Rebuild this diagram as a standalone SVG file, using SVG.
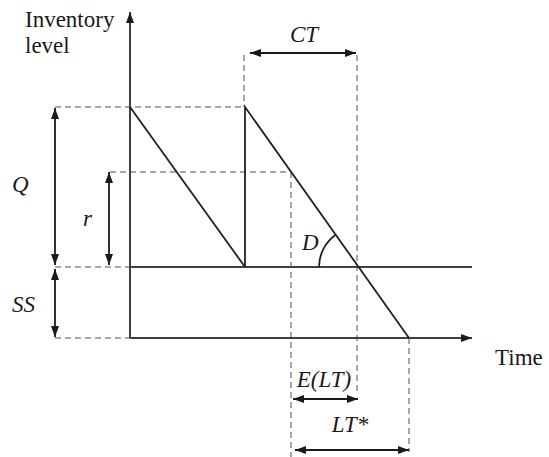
<svg xmlns="http://www.w3.org/2000/svg" width="549" height="457" viewBox="0 0 549 457">
<defs>
<marker id="ah" viewBox="0 0 11 8" refX="11" refY="4" markerWidth="11" markerHeight="8" markerUnits="userSpaceOnUse" orient="auto-start-reverse">
<path d="M0,0 L11,4 L0,8 z" fill="#1a1a1a"/>
</marker>
<style>
.ax{stroke:#404040;stroke-width:2;fill:none}
.ln{stroke:#222;stroke-width:1.8;fill:none}
.ds{stroke:#8a8a8a;stroke-width:1.5;stroke-dasharray:6,4;fill:none}
.dim{stroke:#1a1a1a;stroke-width:1.8;fill:none;marker-start:url(#ah);marker-end:url(#ah)}
.t{font-size:23px;fill:#1a1a1a}
.i{font-style:italic}
</style>
</defs>
<rect width="549" height="457" fill="#fff"/>
<g id="guides">
<path class="ds" d="M55,107 H245 M110,172 H291 M55,267 H130 M55,338 H130 M244,55 V107 M357,55 V395 M291,172 V457 M409,338 V452"/>
</g>
<g id="axes">
<line class="ax" x1="130" y1="338" x2="130" y2="12" marker-end="url(#ah)"/>
<line class="ax" x1="130" y1="338" x2="472" y2="338" marker-end="url(#ah)"/>
<line class="ax" x1="130" y1="267" x2="472" y2="267"/>
</g>
<g id="connectors">
<path class="ln" d="M130,107 L245,267 M245,267 V107 L409,338"/>
<path class="ln" d="M319,267 A40,40 0 0 1 336,234.5"/>
<line class="dim" x1="55" y1="108" x2="55" y2="265"/>
<line class="dim" x1="55" y1="269" x2="55" y2="337"/>
<line class="dim" x1="109" y1="172" x2="109" y2="265"/>
<line class="dim" x1="250" y1="53" x2="356" y2="53"/>
<line class="dim" x1="293" y1="399" x2="358" y2="399"/>
<line class="dim" x1="295" y1="450" x2="409" y2="450"/>
</g>
<g id="labels" font-family="'Liberation Serif', 'Times New Roman', 'DejaVu Serif', serif">
<text class="t" x="25" y="27">Inventory</text>
<text class="t" x="25" y="53">level</text>
<text class="t" x="495" y="365">Time</text>
<text class="t i" x="12" y="192">Q</text>
<text class="t i" x="83" y="226">r</text>
<text class="t i" x="12" y="312">SS</text>
<text class="t i" x="304" y="42" text-anchor="middle">CT</text>
<text class="t i" x="302" y="250">D</text>
<text class="t i" x="324" y="387" text-anchor="middle">E(LT)</text>
<text class="t i" x="350" y="432" text-anchor="middle">LT*</text>
</g>
</svg>
